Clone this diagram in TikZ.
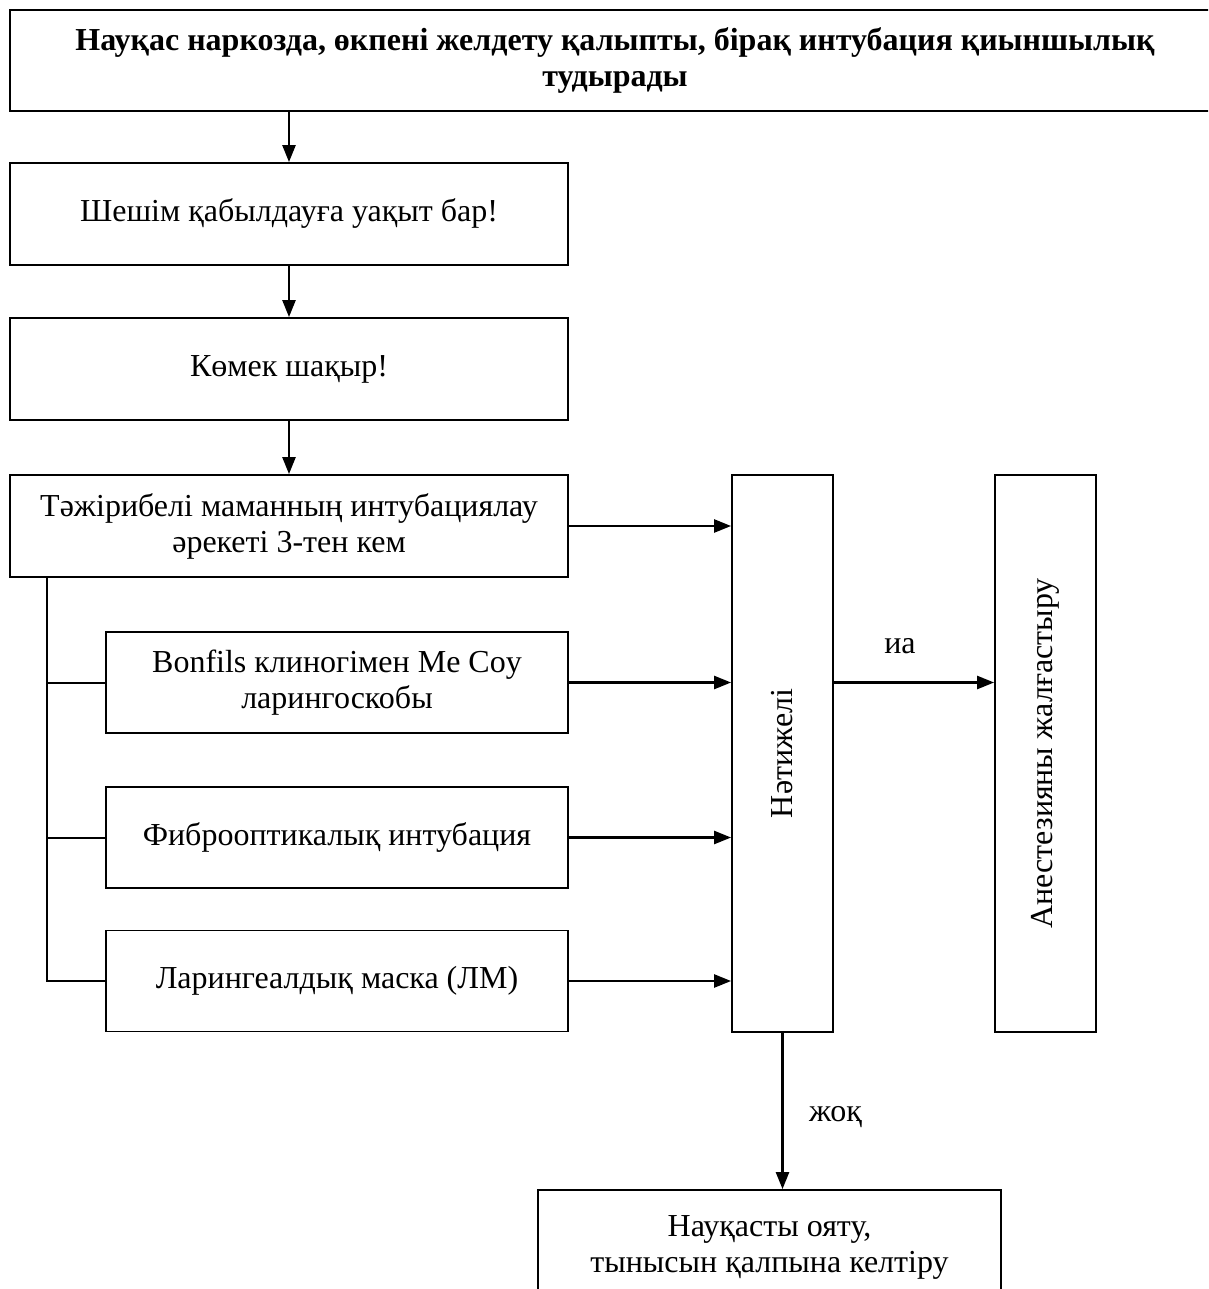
\documentclass[tikz,border=0pt]{standalone}
\usepackage{fontspec}
\setmainfont{Liberation Serif}
\usetikzlibrary{arrows.meta}

\tikzset{
  txt/.style={font=\fontsize{32}{36}\selectfont},
  box/.style={draw, line width=1.8pt, rectangle, align=center, inner sep=0pt, txt},
  arr/.style={line width=2.4pt, -{Triangle[length=17pt,width=13pt]}},
  tree/.style={line width=2pt}
}

\begin{document}
\begin{tikzpicture}[x=1pt,y=1pt]
  \clip (0,0) rectangle (1208,-1289);

  % left column
  \node[box, minimum width=1210, minimum height=101, font=\fontsize{32}{36}\selectfont\bfseries]
    (top) at (615,-60.5) {Науқас наркозда, өкпені желдету қалыпты, бірақ интубация қиыншылық\\тудырады};
  \node[box, minimum width=558, minimum height=102] (decide) at (289,-214) {Шешім қабылдауға уақыт бар!};
  \node[box, minimum width=558, minimum height=102] (help) at (289,-369) {Көмек шақыр!};
  \node[box, minimum width=558, minimum height=102] (expert) at (289,-526) {Тәжірибелі маманның интубациялау\\әрекеті 3-тен кем};

  % alternatives
  \node[box, minimum width=462, minimum height=101] (bonfils) at (337,-682.5) {Bonfils клиногімен Me Coy\\ларингоскобы};
  \node[box, minimum width=462, minimum height=101] (fibre) at (337,-837.5) {Фиброоптикалық интубация};
  \node[box, minimum width=462, minimum height=101] (lma) at (337,-981) {Ларингеалдық маска (ЛМ)};

  % result columns
  \node[box, minimum width=101, minimum height=557] (success) at (782.5,-753.5) {\rotatebox{90}{Нәтижелі}};
  \node[box, minimum width=101, minimum height=557] (cont) at (1045.5,-753.5) {\rotatebox{90}{Анестезияны жалғастыру}};
  \node[box, minimum width=463, minimum height=114] (wake) at (769.5,-1247) {Науқасты ояту,\\тынысын қалпына келтіру};

  \coordinate (trunk) at (47,-577);

  \draw[arr] (decide.north |- top.south) -- (decide.north);
  \draw[arr] (decide) -- (help);
  \draw[arr] (help) -- (expert);

  \draw[tree] (trunk) |- (lma.west);
  \draw[tree] (trunk |- bonfils.west) -- (bonfils.west);
  \draw[tree] (trunk |- fibre.west) -- (fibre.west);

  \draw[arr] (expert.east) -- (success.west |- expert.east);
  \draw[arr] (bonfils.east) -- (success.west |- bonfils.east);
  \draw[arr] (fibre.east) -- (success.west |- fibre.east);
  \draw[arr] (lma.east) -- (success.west |- lma.east);

  \draw[arr] (success.east |- bonfils.east) -- node[above=24pt, xshift=-14pt, txt] (yes) {иа} (cont.west |- bonfils.east);
  \draw[arr] (success.south) -- node[right=22pt, yshift=-6pt, txt] (no) {жоқ} (success.south |- wake.north);
\end{tikzpicture}
\end{document}
